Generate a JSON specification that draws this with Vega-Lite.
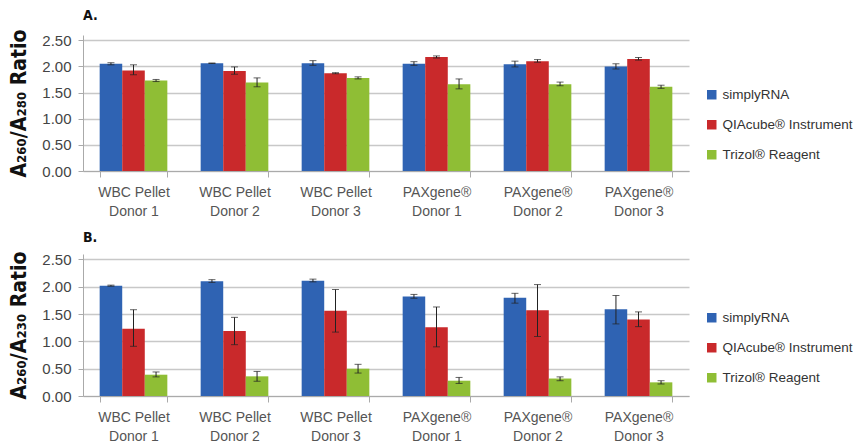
{
  "$schema": "https://vega.github.io/schema/vega-lite/v6.json",
  "background": "white",
  "padding": {"left": 8, "top": 8, "right": 0, "bottom": 0},
  "datasets": {
    "a": [
      {"group": "WBC Pellet|Donor 1", "series": "simplyRNA", "value": 2.05, "lo": 2.03, "hi": 2.07},
      {"group": "WBC Pellet|Donor 1", "series": "QIAcube® Instrument", "value": 1.92, "lo": 1.84, "hi": 2.03},
      {"group": "WBC Pellet|Donor 1", "series": "Trizol® Reagent", "value": 1.73, "lo": 1.71, "hi": 1.75},
      {"group": "WBC Pellet|Donor 2", "series": "simplyRNA", "value": 2.06, "lo": 2.055, "hi": 2.065},
      {"group": "WBC Pellet|Donor 2", "series": "QIAcube® Instrument", "value": 1.91, "lo": 1.85, "hi": 1.99},
      {"group": "WBC Pellet|Donor 2", "series": "Trizol® Reagent", "value": 1.69, "lo": 1.61, "hi": 1.78},
      {"group": "WBC Pellet|Donor 3", "series": "simplyRNA", "value": 2.06, "lo": 2.02, "hi": 2.11},
      {"group": "WBC Pellet|Donor 3", "series": "QIAcube® Instrument", "value": 1.87, "lo": 1.86, "hi": 1.88},
      {"group": "WBC Pellet|Donor 3", "series": "Trizol® Reagent", "value": 1.78, "lo": 1.76, "hi": 1.8},
      {"group": "PAXgene®|Donor 1", "series": "simplyRNA", "value": 2.05, "lo": 2.02, "hi": 2.09},
      {"group": "PAXgene®|Donor 1", "series": "QIAcube® Instrument", "value": 2.18, "lo": 2.16, "hi": 2.2},
      {"group": "PAXgene®|Donor 1", "series": "Trizol® Reagent", "value": 1.66, "lo": 1.57, "hi": 1.76},
      {"group": "PAXgene®|Donor 2", "series": "simplyRNA", "value": 2.04, "lo": 1.99, "hi": 2.1},
      {"group": "PAXgene®|Donor 2", "series": "QIAcube® Instrument", "value": 2.1, "lo": 2.08, "hi": 2.13},
      {"group": "PAXgene®|Donor 2", "series": "Trizol® Reagent", "value": 1.66, "lo": 1.63, "hi": 1.7},
      {"group": "PAXgene®|Donor 3", "series": "simplyRNA", "value": 2.0, "lo": 1.95, "hi": 2.05},
      {"group": "PAXgene®|Donor 3", "series": "QIAcube® Instrument", "value": 2.14, "lo": 2.12, "hi": 2.17},
      {"group": "PAXgene®|Donor 3", "series": "Trizol® Reagent", "value": 1.61, "lo": 1.58, "hi": 1.64}
    ],
    "b": [
      {"group": "WBC Pellet|Donor 1", "series": "simplyRNA", "value": 2.02, "lo": 2.01, "hi": 2.03},
      {"group": "WBC Pellet|Donor 1", "series": "QIAcube® Instrument", "value": 1.23, "lo": 0.91, "hi": 1.58},
      {"group": "WBC Pellet|Donor 1", "series": "Trizol® Reagent", "value": 0.39, "lo": 0.35, "hi": 0.44},
      {"group": "WBC Pellet|Donor 2", "series": "simplyRNA", "value": 2.1, "lo": 2.08, "hi": 2.13},
      {"group": "WBC Pellet|Donor 2", "series": "QIAcube® Instrument", "value": 1.19, "lo": 0.94, "hi": 1.44},
      {"group": "WBC Pellet|Donor 2", "series": "Trizol® Reagent", "value": 0.36, "lo": 0.27, "hi": 0.45},
      {"group": "WBC Pellet|Donor 3", "series": "simplyRNA", "value": 2.11, "lo": 2.09, "hi": 2.14},
      {"group": "WBC Pellet|Donor 3", "series": "QIAcube® Instrument", "value": 1.56, "lo": 1.17, "hi": 1.95},
      {"group": "WBC Pellet|Donor 3", "series": "Trizol® Reagent", "value": 0.5, "lo": 0.42, "hi": 0.58},
      {"group": "PAXgene®|Donor 1", "series": "simplyRNA", "value": 1.82, "lo": 1.79, "hi": 1.86},
      {"group": "PAXgene®|Donor 1", "series": "QIAcube® Instrument", "value": 1.26, "lo": 0.9, "hi": 1.63},
      {"group": "PAXgene®|Donor 1", "series": "Trizol® Reagent", "value": 0.28, "lo": 0.23, "hi": 0.34},
      {"group": "PAXgene®|Donor 2", "series": "simplyRNA", "value": 1.8, "lo": 1.7, "hi": 1.88},
      {"group": "PAXgene®|Donor 2", "series": "QIAcube® Instrument", "value": 1.57, "lo": 1.09, "hi": 2.04},
      {"group": "PAXgene®|Donor 2", "series": "Trizol® Reagent", "value": 0.32, "lo": 0.28, "hi": 0.35},
      {"group": "PAXgene®|Donor 3", "series": "simplyRNA", "value": 1.59, "lo": 1.32, "hi": 1.84},
      {"group": "PAXgene®|Donor 3", "series": "QIAcube® Instrument", "value": 1.4, "lo": 1.27, "hi": 1.54},
      {"group": "PAXgene®|Donor 3", "series": "Trizol® Reagent", "value": 0.25, "lo": 0.22, "hi": 0.28}
    ]
  },
  "config": {
    "view": {"stroke": null},
    "font": "Liberation Sans",
    "axisX": {
      "domainColor": "#aaaaaa", "tickColor": "#aaaaaa", "tickSize": 6, "tickBand": "extent",
      "labelAngle": 0, "labelFontSize": 14, "labelColor": "#555555", "labelLineHeight": 19,
      "labelPadding": 8, "labelExpr": "split(datum.label, '|')", "grid": false, "title": null
    },
    "axisY": {
      "domainColor": "#aaaaaa", "tickColor": "#aaaaaa", "tickSize": 5,
      "gridColor": "#c8c8c8", "gridWidth": 1.5,
      "labelFontSize": 15, "labelColor": "#444444", "labelPadding": 7, "labelOverlap": false,
      "values": [0, 0.5, 1, 1.5, 2, 2.5], "format": ".2f",
      "titleFont": "DejaVu Sans Condensed, Liberation Sans, sans-serif", "titleFontWeight": "bold", "titleFontSize": 21,
      "titleColor": "#111111", "titlePadding": 12
    },
    "legend": {
      "orient": "none", "title": null, "symbolType": "square", "symbolSize": 90,
      "symbolStrokeWidth": 0, "labelFontSize": 13.5, "labelColor": "#333333", "rowPadding": 15,
      "labelLimit": 300
    },
    "title": {"anchor": "start", "frame": "group", "font": "DejaVu Sans Condensed, Liberation Sans, sans-serif", "fontWeight": "bold", "fontSize": 14, "color": "#111111", "offset": 6}
  },
  "spacing": 12,
  "resolve": {"legend": {"color": "independent"}, "scale": {"color": "independent"}},
  "vconcat": [
    {
      "width": 606, "height": 136,
      "title": {"text": "A."},
      "data": {"name": "a"},
      "encoding": {
        "x": {"field": "group", "type": "nominal", "sort": null, "scale": {"paddingInner": 0.33, "paddingOuter": 0.165}},
        "xOffset": {"field": "series", "type": "nominal", "sort": null, "scale": {"paddingInner": 0, "paddingOuter": 0}}
      },
      "layer": [
        {
          "mark": {"type": "bar"},
          "encoding": {
            "y": {"field": "value", "type": "quantitative", "scale": {"domain": [0, 2.5]},
              "axis": {"title": "A₂₆₀/A₂₈₀ Ratio"}},
            "color": {"field": "series", "type": "nominal", "sort": null,
              "scale": {"domain": ["simplyRNA", "QIAcube® Instrument", "Trizol® Reagent"], "range": ["#2f63b3", "#c9292b", "#8fbe35"]},
              "legend": {"legendX": 622, "legendY": 53}}
          }
        },
        {"mark": {"type": "rule", "color": "#222222", "strokeWidth": 1},
          "encoding": {"y": {"field": "lo", "type": "quantitative", "axis": {"title": "A₂₆₀/A₂₈₀ Ratio"}}, "y2": {"field": "hi"}}},
        {"mark": {"type": "tick", "color": "#222222", "thickness": 1, "size": 7},
          "encoding": {"y": {"field": "lo", "type": "quantitative", "axis": {"title": "A₂₆₀/A₂₈₀ Ratio"}}}},
        {"mark": {"type": "tick", "color": "#222222", "thickness": 1, "size": 7},
          "encoding": {"y": {"field": "hi", "type": "quantitative", "axis": {"title": "A₂₆₀/A₂₈₀ Ratio"}}}}
      ]
    },
    {
      "width": 606, "height": 142,
      "title": {"text": "B."},
      "data": {"name": "b"},
      "encoding": {
        "x": {"field": "group", "type": "nominal", "sort": null, "scale": {"paddingInner": 0.33, "paddingOuter": 0.165}},
        "xOffset": {"field": "series", "type": "nominal", "sort": null, "scale": {"paddingInner": 0, "paddingOuter": 0}}
      },
      "layer": [
        {
          "mark": {"type": "bar"},
          "encoding": {
            "y": {"field": "value", "type": "quantitative", "scale": {"domain": [0, 2.5]},
              "axis": {"title": "A₂₆₀/A₂₃₀ Ratio"}},
            "color": {"field": "series", "type": "nominal", "sort": null,
              "scale": {"domain": ["simplyRNA", "QIAcube® Instrument", "Trizol® Reagent"], "range": ["#2f63b3", "#c9292b", "#8fbe35"]},
              "legend": {"legendX": 622, "legendY": 57}}
          }
        },
        {"mark": {"type": "rule", "color": "#222222", "strokeWidth": 1},
          "encoding": {"y": {"field": "lo", "type": "quantitative", "axis": {"title": "A₂₆₀/A₂₃₀ Ratio"}}, "y2": {"field": "hi"}}},
        {"mark": {"type": "tick", "color": "#222222", "thickness": 1, "size": 7},
          "encoding": {"y": {"field": "lo", "type": "quantitative", "axis": {"title": "A₂₆₀/A₂₃₀ Ratio"}}}},
        {"mark": {"type": "tick", "color": "#222222", "thickness": 1, "size": 7},
          "encoding": {"y": {"field": "hi", "type": "quantitative", "axis": {"title": "A₂₆₀/A₂₃₀ Ratio"}}}}
      ]
    }
  ]
}
